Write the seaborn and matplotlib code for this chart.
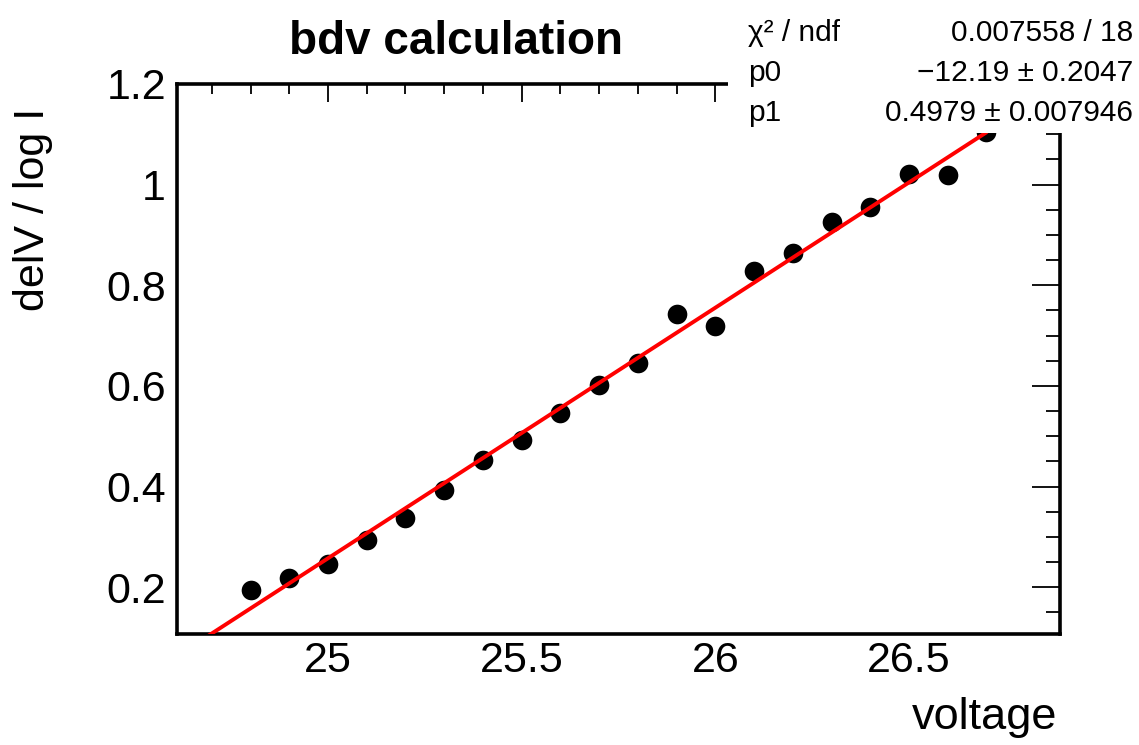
import numpy as np
import pandas as pd
import matplotlib
matplotlib.use("Agg")
import matplotlib.pyplot as plt
from matplotlib.patches import Rectangle
from matplotlib.ticker import MultipleLocator, FuncFormatter
import seaborn as sns

# Measured points: bias voltage vs. delV / log I
voltage = [24.8, 24.9, 25.0, 25.1, 25.2, 25.3, 25.4, 25.5, 25.6, 25.7,
           25.8, 25.9, 26.0, 26.1, 26.2, 26.3, 26.4, 26.5, 26.6, 26.7]
delv_logi = [0.195, 0.219, 0.246, 0.294, 0.337, 0.393, 0.453, 0.493, 0.546, 0.601,
             0.645, 0.742, 0.720, 0.829, 0.865, 0.926, 0.956, 1.022, 1.020, 1.105]

# Linear fit result (pol1): y = p0 + p1 * x
p0, p0_err = -12.19, 0.2047
p1, p1_err = 0.4979, 0.007946
chi2, ndf = 0.007558, 18
fit_range = [24.6, 26.7]

sns.set_theme(style="white")
plt.rcParams["font.family"] = ["Liberation Sans", "DejaVu Sans"]
plt.rcParams.update({"text.color": "black", "axes.labelcolor": "black",
                     "xtick.color": "black", "ytick.color": "black",
                     "axes.edgecolor": "black"})

W, H = 1139, 745
fig = plt.figure(figsize=(W / 100, H / 100), dpi=100)
ax = fig.add_axes([177 / W, 1 - 634 / H, (1060 - 177) / W, (634 - 84) / H])

df = pd.DataFrame({"voltage": voltage, "delv_logi": delv_logi})
sns.scatterplot(data=df, x="voltage", y="delv_logi", ax=ax, s=200,
                color="black", edgecolor="black", linewidth=0, zorder=3)

fx = np.array(fit_range)
fit_df = pd.DataFrame({"voltage": fx, "fit": p0 + p1 * fx})
sns.lineplot(data=fit_df, x="voltage", y="fit", ax=ax, color="#ff0000",
             linewidth=2.8, zorder=4)

ax.set_xlim(24.61, 26.89)
ax.set_ylim(0.107, 1.2)
ax.xaxis.set_major_locator(MultipleLocator(0.5))
ax.xaxis.set_minor_locator(MultipleLocator(0.1))
ax.yaxis.set_major_locator(MultipleLocator(0.2))
ax.yaxis.set_minor_locator(MultipleLocator(0.05))
ax.xaxis.set_major_formatter(FuncFormatter(lambda v, p: f"{v:g}"))
ax.yaxis.set_major_formatter(FuncFormatter(lambda v, p: f"{v:g}"))

for s in ax.spines.values():
    s.set_linewidth(2.6)
    s.set_color("black")

ax.tick_params(axis="both", which="both", direction="in", top=True, right=True,
               color="black", width=1.3)
ax.tick_params(axis="x", which="major", length=13, labelsize=31, pad=5)
ax.tick_params(axis="x", which="minor", length=7)
ax.tick_params(axis="y", which="major", length=20, labelsize=31, pad=8)
ax.tick_params(axis="y", which="minor", length=10)

ax.set_xlabel("")
ax.set_ylabel("")
fig.text(1057 / W, 1 - 718 / H, "voltage", fontsize=32.5, ha="right", va="center")
fig.text(33 / W, 1 - 108 / H, "delV / log I", fontsize=31, rotation=90,
         ha="center", va="top")

fig.text(456 / W, 1 - 42 / H, "bdv calculation", fontsize=33, fontweight="bold",
         ha="center", va="center")

# Fit statistics box
fig.patches.append(Rectangle((728 / W, 1 - 133 / H), (W - 728) / W, 133 / H,
                             transform=fig.transFigure, facecolor="white",
                             edgecolor="none", zorder=5))
rows = [
    ("\u03c7\u00b2 / ndf", f"{chi2:g} / {ndf}"),
    ("p0", f"\u2212{abs(p0):.2f} \u00b1 {p0_err:g}"),
    ("p1", f"{p1:g} \u00b1 {p1_err:g}"),
]
for i, (lab, val) in enumerate(rows):
    yy = 1 - (33 + 40 * i) / H
    fig.text(748 / W, yy, lab, fontsize=21.5, ha="left", va="center", zorder=6)
    fig.text(1133 / W, yy, val, fontsize=21.5, ha="right", va="center", zorder=6)

fig.savefig("out.png", dpi=100, facecolor="white")
